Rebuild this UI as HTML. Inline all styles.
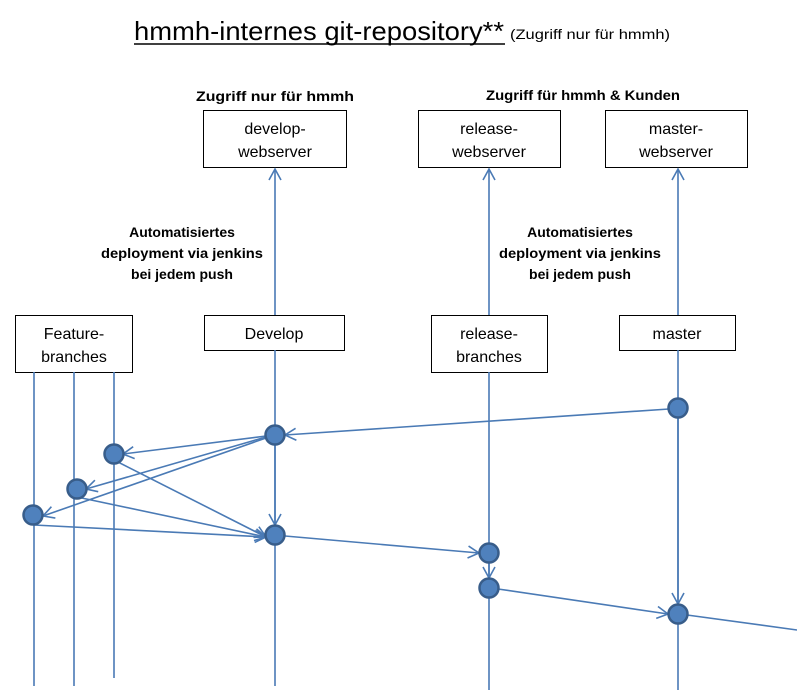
<!DOCTYPE html>
<html><head><meta charset="utf-8"><style>
body{margin:0;background:#fff}
svg{display:block}
text{font-family:"Liberation Sans",sans-serif;fill:#000}
</style></head><body>
<svg width="797" height="693" viewBox="0 0 797 693" xmlns="http://www.w3.org/2000/svg">
<defs>
<marker id="a" markerWidth="14" markerHeight="14" refX="12" refY="7" orient="auto" markerUnits="userSpaceOnUse">
<path d="M1,1 L12,7 L1,13" fill="none" stroke="#4a7ab5" stroke-width="1.6"/>
</marker>
</defs>
<text x="134" y="40" font-size="26" textLength="370" lengthAdjust="spacingAndGlyphs">hmmh-internes git-repository**</text>
<line x1="134" y1="44" x2="505" y2="44" stroke="#000" stroke-width="1.5"/>
<text x="510" y="39" font-size="14" textLength="160" lengthAdjust="spacingAndGlyphs">(Zugriff nur für hmmh)</text>
<text x="275" y="101" font-size="14" text-anchor="middle" font-weight="bold" textLength="158" lengthAdjust="spacingAndGlyphs">Zugriff nur für hmmh</text>
<text x="583" y="100" font-size="14" text-anchor="middle" font-weight="bold" textLength="194" lengthAdjust="spacingAndGlyphs">Zugriff für hmmh &amp; Kunden</text>
<g fill="#fff" stroke="#000" stroke-width="1">
<rect x="203.5" y="110.5" width="143" height="57"/>
<rect x="418.5" y="110.5" width="142" height="57"/>
<rect x="605.5" y="110.5" width="142" height="57"/>
<rect x="15.5" y="315.5" width="117" height="57"/>
<rect x="204.5" y="315.5" width="140" height="35"/>
<rect x="431.5" y="315.5" width="116" height="57"/>
<rect x="619.5" y="315.5" width="116" height="35"/>
</g>
<g font-size="16" text-anchor="middle">
<text x="275" y="134">develop-</text><text x="275" y="157">webserver</text>
<text x="489" y="134">release-</text><text x="489" y="157">webserver</text>
<text x="676" y="134">master-</text><text x="676" y="157">webserver</text>
<text x="74" y="339">Feature-</text><text x="74" y="362">branches</text>
<text x="274" y="339">Develop</text>
<text x="489" y="339">release-</text><text x="489" y="362">branches</text>
<text x="677" y="339">master</text>
</g>
<g font-size="14" text-anchor="middle" font-weight="bold">
<text x="182" y="237">Automatisiertes</text><text x="182" y="258" textLength="162" lengthAdjust="spacingAndGlyphs">deployment via jenkins</text><text x="182" y="279">bei jedem push</text>
<text x="580" y="237">Automatisiertes</text><text x="580" y="258" textLength="162" lengthAdjust="spacingAndGlyphs">deployment via jenkins</text><text x="580" y="279">bei jedem push</text>
</g>
<g stroke="#4a7ab5" stroke-width="1.6" fill="none">
<line x1="34" y1="372" x2="34" y2="686"/>
<line x1="74" y1="372" x2="74" y2="686"/>
<line x1="114" y1="372" x2="114" y2="678"/>
<line x1="275" y1="350" x2="275" y2="686"/>
<line x1="489" y1="372" x2="489" y2="690"/>
<line x1="678" y1="350" x2="678" y2="690"/>
<line x1="275" y1="315" x2="275" y2="169" marker-end="url(#a)"/>
<line x1="489" y1="315" x2="489" y2="169" marker-end="url(#a)"/>
<line x1="678" y1="315" x2="678" y2="169" marker-end="url(#a)"/>
<line x1="669" y1="409" x2="285" y2="435" marker-end="url(#a)"/>
<line x1="266" y1="436" x2="123" y2="454" marker-end="url(#a)"/>
<line x1="266" y1="437" x2="86" y2="489" marker-end="url(#a)"/>
<line x1="266" y1="438" x2="43" y2="516" marker-end="url(#a)"/>
<line x1="114" y1="460" x2="266" y2="537" marker-end="url(#a)"/>
<line x1="77" y1="497" x2="266" y2="537" marker-end="url(#a)"/>
<line x1="34" y1="525" x2="266" y2="537" marker-end="url(#a)"/>
<line x1="275" y1="444" x2="275" y2="525" marker-end="url(#a)"/>
<line x1="285" y1="536" x2="479" y2="553" marker-end="url(#a)"/>
<line x1="489" y1="562" x2="489" y2="578" marker-end="url(#a)"/>
<line x1="498" y1="589" x2="668" y2="614" marker-end="url(#a)"/>
<line x1="678" y1="418" x2="678" y2="604" marker-end="url(#a)"/>
<line x1="687" y1="615" x2="797" y2="630"/>
</g>
<g fill="#4f81bd" stroke="#385d8a" stroke-width="2.5">
<circle cx="678" cy="408" r="9.5"/>
<circle cx="275" cy="435" r="9.5"/>
<circle cx="114" cy="454" r="9.5"/>
<circle cx="77" cy="489" r="9.5"/>
<circle cx="33" cy="515" r="9.5"/>
<circle cx="275" cy="535" r="9.5"/>
<circle cx="489" cy="553" r="9.5"/>
<circle cx="489" cy="588" r="9.5"/>
<circle cx="678" cy="614" r="9.5"/>
</g>
</svg>
</body></html>
